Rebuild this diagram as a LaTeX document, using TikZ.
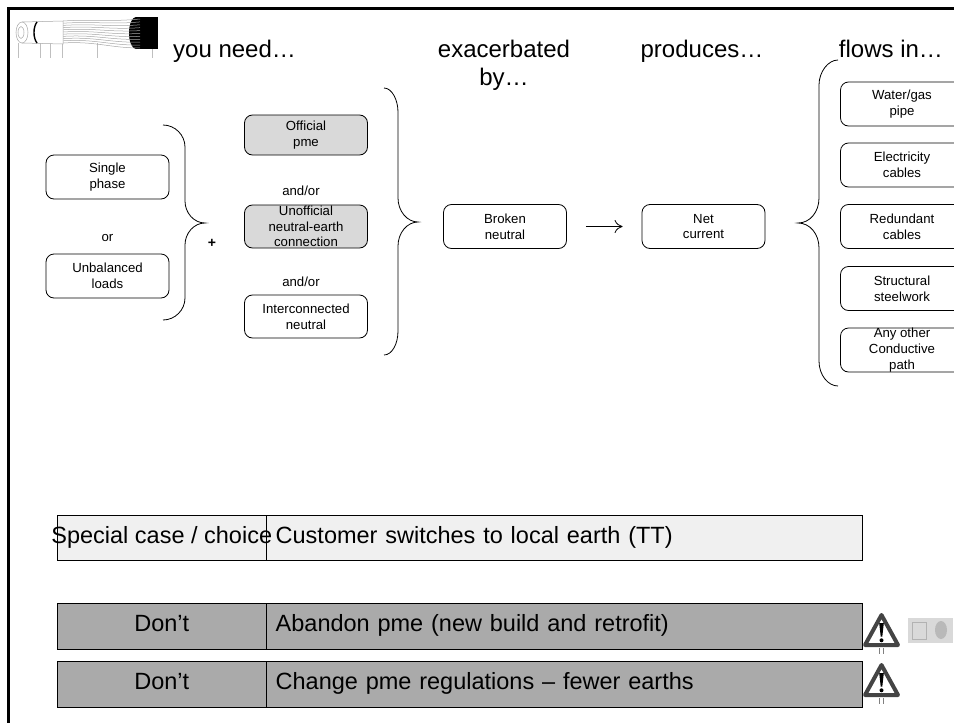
\documentclass[tikz,border=0pt]{standalone}
\usepackage{fontspec}
\setmainfont{Liberation Sans}
\usepackage{tikz}
\usetikzlibrary{arrows.meta}

\definecolor{pmegray}{RGB}{217,217,217}
\definecolor{dontgray}{RGB}{170,170,170}
\definecolor{casegray}{RGB}{240,240,240}
\definecolor{warngray}{RGB}{68,68,68}

\begin{document}
\begin{tikzpicture}[x=1pt,y=-1pt,
    pill/.style={draw,rounded corners=8pt,line width=0.8pt,minimum width=123pt,minimum height=44pt,inner sep=0pt,align=center,font=\fontsize{13.2}{15.7}\selectfont},
    word/.style={inner sep=0pt,font=\fontsize{13.2}{15.7}\selectfont},
    head/.style={inner sep=0pt,anchor=north,align=center,font=\fontsize{24}{28}\selectfont},
    cell/.style={draw,line width=0.7pt,minimum height=46pt,inner sep=0pt,text height=17pt,text depth=6pt,font=\fontsize{23.5}{28}\selectfont},
    textcell/.style={cell,minimum width=596pt,text width=578pt,inner xsep=9pt,align=left,anchor=west},
    brace/.style={line width=0.8pt},
    warn/.style={draw=warngray,line width=4pt,line join=round}]
    \useasboundingbox (0,0) rectangle (954,723);
    \clip (0,0) rectangle (954,723);

    % cable logo
    \foreach \lx in {18,40,50,62,97,152} \draw[gray!50,line width=0.4pt] (\lx,43) -- (\lx,58);
    \fill (136,17) rectangle (158,49);
    \fill (136,33) ellipse (7 and 16);
    \foreach \i in {0,...,10}
        \draw[gray!70,line width=0.5pt] (63,21+2.2*\i) .. controls (95,19+2.2*\i) and (110,22+2.6*\i) .. (140,19+2.9*\i);
    \draw[gray!70,fill=white,line width=0.5pt] (22,22) -- (63,21) -- (63,44) -- (22,43);
    \draw[gray!70,fill=white,line width=0.5pt] (22,32.5) ellipse (6 and 10.5);
    \draw[gray!70,line width=0.5pt] (21,32.5) ellipse (3 and 6);
    \draw[line width=1.4pt] (37,22) .. controls (33,27) and (33,38) .. (37,43);

    \node[head,anchor=north west] (need) at (173,40) {you need…};
    \node[head] (exac) at (504,40) {exacerbated\\by…};
    \node[head] (prod) at (702,40) {produces…};
    \node[head] (flows) at (891,40) {flows in…};

    \node[pill] (single) at (107.5,177) {Single\\phase};
    \node[word] (or) at (107.5,238) {or};
    \node[pill] (unbal) at (107.5,276) {Unbalanced\\loads};
    \draw[brace] (163,125) .. controls (175,125) and (185,135) .. (185,147) -- (185,201)
        .. controls (185,213) and (194,223) .. (205,223) .. controls (194,223) and (185,233) .. (185,245)
        -- (185,298) .. controls (185,310) and (175,320) .. (163,320);
    \node[word,font=\fontsize{14}{16}\selectfont\bfseries] (plus) at (212,243) {+};

    \node[pill,fill=pmegray,minimum height=40pt] (official) at (306,135) {Official\\pme};
    \node[word] (andor1) at (301,191) {and/or};
    \node[pill,fill=pmegray,minimum height=43pt] (unofficial) at (306,226.5) {Unofficial\\neutral-earth\\connection};
    \node[word] (andor2) at (301,282) {and/or};
    \node[pill,minimum height=43pt] (inter) at (306,316.5) {Interconnected\\neutral};
    \draw[brace] (384,88) .. controls (392,88) and (398,100) .. (398,112) -- (398,198)
        .. controls (398,211) and (407,222) .. (418,222) .. controls (407,222) and (398,233) .. (398,246)
        -- (398,331) .. controls (398,344) and (392,355) .. (384,355);

    \node[pill] (broken) at (505,226.5) {Broken\\neutral};
    \node[pill] (net) at (703.5,226.5) {Net\\current};
    \draw[-{To[length=8pt,width=13pt]},line width=0.8pt] ([xshift=19pt]broken.east) -- ([xshift=-19pt]net.west);

    \draw[brace] (838,60) .. controls (828,60) and (819,72) .. (819,85) -- (819,198)
        .. controls (819,212) and (810,223) .. (798,223) .. controls (810,223) and (819,234) .. (819,248)
        -- (819,361) .. controls (819,375) and (828,386) .. (838,386);
    \node[pill] (water) at (902,104) {Water/gas\\pipe};
    \node[pill] (elec) at (902,165) {Electricity\\cables};
    \node[pill] (redund) at (902,226.5) {Redundant\\cables};
    \node[pill] (steel) at (902,288.5) {Structural\\steelwork};
    \node[pill] (other) at (902,350) {Any other\\Conductive\\path};

    % table rows
    \node[cell,fill=casegray,minimum width=208.5pt,minimum height=45pt] (special) at (161.75,537.5) {};
    \node[textcell,fill=casegray,minimum height=45pt] (customer) at (special.east) {Customer switches to local earth (TT)};
    \node[inner sep=0pt,font=\fontsize{23.5}{28}\selectfont] (specialtxt) at (special) {Special case / choice};

    \node[cell,fill=dontgray,minimum width=208.5pt] (dont1) at (161.75,626) {Don’t};
    \node[textcell,fill=dontgray] (abandon) at (dont1.east) {Abandon pme (new build and retrofit)};
    \node[cell,fill=dontgray,minimum width=208.5pt] (dont2) at (161.75,684) {Don’t};
    \node[textcell,fill=dontgray] (change) at (dont2.east) {Change pme regulations – fewer earths};

    \foreach \dy in {0,50} {
        \draw[warn] (881.5,615+\dy) -- (898,645+\dy) -- (865,645+\dy) -- cycle;
        \fill (879.2,623+\dy) -- (883.8,623+\dy) -- (882.3,636.5+\dy) -- (880.7,636.5+\dy) -- cycle;
        \fill (881.5,640.3+\dy) circle (2);
        \draw[gray,line width=0.4pt] (879.5,648+\dy) -- ++(0,6) (883.5,648+\dy) -- ++(0,6);
    }
    \fill[gray!30] (908,618) rectangle (953,643);
    \draw[gray!60,line width=0.6pt] (912,622) rectangle (926,639);
    \fill[gray!55] (941,630) ellipse (6 and 9);

    \draw[line width=3pt] (8.5,723) -- (8.5,8.5) -- (954,8.5);
\end{tikzpicture}
\end{document}
